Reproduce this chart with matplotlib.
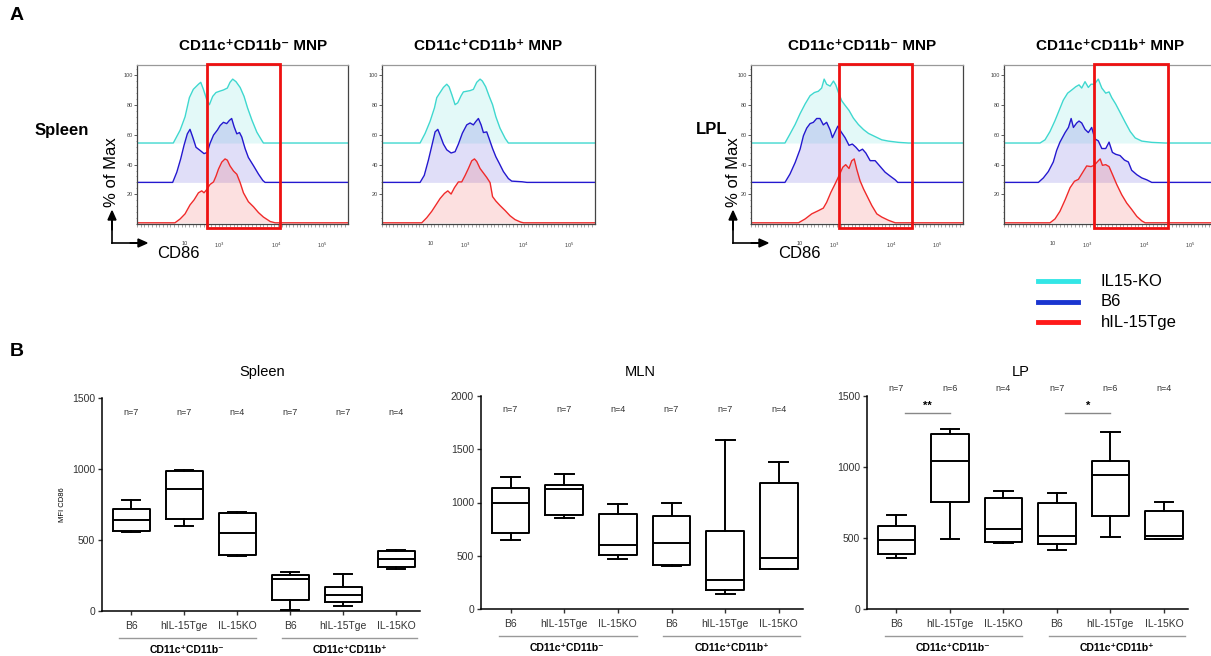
import numpy as np
import matplotlib
matplotlib.use('Agg')
import matplotlib.pyplot as plt
from matplotlib.patches import Rectangle, FancyArrow
from matplotlib.lines import Line2D
from matplotlib.ticker import MultipleLocator

plt.rcParams['font.family'] = ['Liberation Sans', 'DejaVu Sans']

W, H = 1211, 656

# ---------------- panel A: CD86 histograms (channel, % of max) ----------------
# Spleen, CD11c+CD11b-
spl_neg_ko_x = [176, 209, 233, 254, 273, 298, 309, 322, 338, 351, 367, 383, 400, 419, 438, 451, 464, 480, 500, 519, 536, 557, 581, 605, 613]
spl_neg_ko_y = [0, 20, 41, 71, 84, 92, 95, 84, 68, 60, 73, 79, 81, 83, 86, 95, 100, 96, 87, 73, 55, 36, 17, 4, 0]
spl_neg_b6_x = [173, 193, 212, 228, 244, 257, 270, 286, 306, 325, 341, 354, 371, 390, 403, 419, 435, 448, 459, 471, 484, 497, 508, 524, 540, 565, 589, 610, 621]
spl_neg_b6_y = [0, 16, 37, 58, 76, 83, 71, 55, 50, 45, 47, 61, 74, 82, 89, 94, 92, 97, 100, 87, 76, 78, 71, 53, 39, 26, 13, 3, 0]
spl_neg_tg_x = [184, 209, 233, 257, 277, 298, 314, 325, 338, 354, 371, 383, 395, 411, 427, 438, 451, 468, 484, 500, 516, 540, 565, 589, 613, 646, 670]
spl_neg_tg_y = [0, 6, 14, 28, 36, 47, 50, 47, 52, 60, 64, 73, 84, 95, 100, 98, 89, 81, 76, 63, 47, 33, 25, 16, 9, 2, 0]

# Spleen, CD11c+CD11b+
spl_pos_ko_x = [183, 207, 231, 252, 263, 279, 295, 311, 322, 335, 351, 364, 380, 391, 407, 423, 439, 455, 471, 482, 498, 515, 531, 547, 567, 592, 607]
spl_pos_ko_y = [0, 15, 34, 55, 71, 79, 87, 92, 88, 76, 60, 63, 74, 80, 81, 82, 84, 95, 100, 97, 88, 73, 60, 41, 23, 7, 0]
spl_pos_b6_x = [183, 203, 223, 242, 255, 268, 279, 295, 311, 332, 351, 367, 386, 407, 423, 439, 450, 463, 476, 487, 503, 514, 531, 547, 563, 583, 607, 623, 672, 696]
spl_pos_b6_y = [0, 11, 35, 61, 79, 83, 74, 60, 51, 46, 48, 60, 77, 90, 93, 90, 95, 100, 90, 78, 79, 69, 53, 40, 30, 17, 6, 2, 1, 0]
spl_pos_tg_x = [191, 215, 239, 263, 279, 300, 316, 332, 348, 367, 383, 399, 415, 431, 444, 455, 471, 487, 503, 519, 531, 547, 567, 592, 615, 639, 667, 680]
spl_pos_tg_y = [0, 8, 18, 30, 38, 46, 50, 45, 55, 64, 64, 74, 85, 97, 100, 96, 85, 78, 71, 63, 41, 34, 27, 19, 11, 5, 1, 0]

# LPL, CD11c+CD11b-
lpl_neg_ko_x = [164, 188, 213, 237, 261, 285, 306, 325, 341, 353, 365, 382, 398, 409, 422, 438, 454, 473, 494, 518, 543, 567, 599, 631, 663, 712, 760]
lpl_neg_ko_y = [0, 14, 29, 46, 61, 74, 79, 81, 86, 100, 92, 89, 97, 91, 79, 66, 59, 51, 39, 29, 21, 15, 10, 5, 3, 1, 0]
lpl_neg_b6_x = [164, 188, 213, 237, 253, 269, 285, 301, 317, 333, 349, 365, 382, 393, 406, 419, 435, 454, 473, 489, 506, 522, 538, 554, 575, 599, 623, 647, 671, 696, 708]
lpl_neg_b6_y = [0, 13, 31, 52, 73, 85, 92, 94, 100, 100, 90, 94, 82, 70, 79, 88, 79, 70, 58, 60, 55, 49, 52, 46, 34, 34, 25, 16, 10, 4, 0]
lpl_neg_tg_x = [229, 261, 293, 325, 349, 365, 386, 406, 425, 443, 457, 473, 486, 498, 510, 526, 543, 563, 583, 607, 631, 663, 696]
lpl_neg_tg_y = [0, 6, 14, 19, 23, 32, 48, 61, 74, 87, 91, 85, 97, 100, 84, 66, 53, 40, 27, 14, 9, 4, 0]

# LPL, CD11c+CD11b+
lpl_pos_ko_x = [174, 198, 222, 246, 266, 286, 307, 327, 346, 362, 375, 391, 407, 420, 436, 455, 472, 491, 507, 520, 539, 560, 584, 609, 633, 665, 713, 778]
lpl_pos_ko_y = [0, 5, 18, 35, 51, 67, 78, 83, 88, 91, 86, 96, 87, 92, 92, 100, 86, 78, 80, 71, 61, 48, 33, 18, 8, 3, 1, 0]
lpl_pos_b6_x = [166, 190, 214, 238, 254, 270, 295, 311, 324, 335, 351, 362, 375, 391, 407, 423, 439, 455, 472, 491, 507, 523, 539, 560, 581, 600, 616, 641, 665, 689, 713]
lpl_pos_b6_y = [0, 7, 17, 32, 50, 63, 78, 86, 100, 86, 93, 96, 93, 83, 78, 86, 68, 65, 53, 53, 63, 47, 44, 42, 35, 32, 19, 12, 7, 4, 0]
lpl_pos_tg_x = [222, 246, 270, 295, 319, 340, 359, 378, 399, 420, 436, 452, 464, 475, 491, 507, 523, 544, 568, 592, 616, 641, 665, 681]
lpl_pos_tg_y = [0, 6, 18, 36, 55, 65, 68, 78, 89, 88, 90, 96, 100, 90, 91, 88, 76, 60, 44, 31, 21, 10, 3, 0]

# gates (channel range)
gate_spl_neg = (338, 694)
gate_lpl_neg = (426, 779)
gate_lpl_pos = (436, 791)

xtick_ch = [233, 400, 676, 899]
xtick_lab = ['10', '10$^3$', '10$^4$', '10$^5$']

groups = ['IL15-KO', 'B6', 'hIL-15Tge']
line_cols = ['#3fd8cf', '#2418cf', '#f02a2a']
legend_cols = ['#33e6e6', '#1a35d0', '#ff1a1a']
offsets = [54.5, 28, 0.8]

# ---------------- panel B: MFI CD86 box plots ----------------
cats = ['B6', 'hIL-15Tge', 'IL-15KO', 'B6', 'hIL-15Tge', 'IL-15KO']

spleen_lo = [556, 596, 385, 5, 35, 298]
spleen_q1 = [563, 650, 397, 75, 63, 310]
spleen_med = [638, 861, 549, 228, 110, 368]
spleen_q3 = [716, 986, 692, 251, 169, 422]
spleen_hi = [779, 995, 697, 275, 258, 432]
spleen_n = [7, 7, 4, 7, 7, 4]

mln_lo = [644, 853, 469, 406, 141, 375]
mln_q1 = [713, 878, 503, 416, 181, 375]
mln_med = [994, 1128, 603, 619, 269, 478]
mln_q3 = [1134, 1166, 891, 875, 731, 1181]
mln_hi = [1244, 1266, 984, 994, 1588, 1381]
mln_n = [7, 7, 4, 7, 7, 4]

lp_lo = [361, 491, 467, 415, 509, 491]
lp_q1 = [387, 751, 469, 455, 655, 491]
lp_med = [486, 1044, 563, 514, 943, 516]
lp_q3 = [587, 1230, 779, 744, 1044, 692]
lp_hi = [662, 1265, 831, 819, 1249, 751]
lp_n = [7, 6, 4, 7, 6, 4]
lp_sig_pairs = [(0, 1), (3, 4)]
lp_sig_marks = ['**', '*']


fig = plt.figure(figsize=(W / 100, H / 100), dpi=100)


def px(l, t, r, b):
    return [l / W, 1 - b / H, (r - l) / W, (b - t) / H]


def ftext(x, y, s, **kw):
    fig.text(x / W, 1 - y / H, s, **kw)


def histo(rect, curves, gate=None):
    ax = fig.add_axes(px(*rect))
    for (cx, cy), off, col in zip(curves, offsets, line_cols):
        x = np.r_[0, cx, 1023]
        y = off + np.r_[0, cy, 0] * 0.43
        ax.fill_between(x, off, y, color=col, alpha=0.14, lw=0)
        ax.plot(x, y, color=col, lw=1.0)
    ax.set_xlim(0, 1023)
    ax.set_ylim(0, 107)
    for s in ax.spines.values():
        s.set_color('#444')
        s.set_linewidth(0.9)
    ax.spines['top'].set_color('#999')
    ax.set_yticks([20, 40, 60, 80, 100])
    ax.yaxis.set_minor_locator(MultipleLocator(4))
    ax.set_xticks(xtick_ch, xtick_lab)
    ax.xaxis.set_minor_locator(MultipleLocator(18))
    ax.tick_params(axis='y', labelsize=4, length=2, width=0.6, pad=1, colors='#444')
    ax.tick_params(axis='y', which='minor', length=1, width=0.4, colors='#444')
    ax.tick_params(axis='x', labelsize=4, length=0, pad=12, colors='#444')
    ax.tick_params(axis='x', which='minor', length=2, width=0.4, colors='#666')
    if gate is not None:
        ax.add_patch(Rectangle((gate[0], -2.6), gate[1] - gate[0], 110.5, fill=False,
                               ec='#ee1111', lw=2.0, clip_on=False, zorder=5))
    return ax


histo((137, 65, 348, 224), [(spl_neg_ko_x, spl_neg_ko_y), (spl_neg_b6_x, spl_neg_b6_y),
                            (spl_neg_tg_x, spl_neg_tg_y)], gate_spl_neg)
histo((382, 65, 595, 224), [(spl_pos_ko_x, spl_pos_ko_y), (spl_pos_b6_x, spl_pos_b6_y),
                            (spl_pos_tg_x, spl_pos_tg_y)])
histo((751, 65, 963, 224), [(lpl_neg_ko_x, lpl_neg_ko_y), (lpl_neg_b6_x, lpl_neg_b6_y),
                            (lpl_neg_tg_x, lpl_neg_tg_y)], gate_lpl_neg)
histo((1004, 65, 1216, 224), [(lpl_pos_ko_x, lpl_pos_ko_y), (lpl_pos_b6_x, lpl_pos_b6_y),
                              (lpl_pos_tg_x, lpl_pos_tg_y)], gate_lpl_pos)

title_neg = 'CD11c\u207aCD11b\u207b MNP'
title_pos = 'CD11c\u207aCD11b\u207a MNP'
for x, t in [(253, title_neg), (488, title_pos), (862, title_neg), (1110, title_pos)]:
    ftext(x, 46, t, ha='center', va='center', fontsize=11, fontweight='bold')

ftext(10, 16, 'A', fontsize=14, fontweight='bold', va='center')
ftext(35, 131, 'Spleen', fontsize=12, fontweight='bold', va='center')
ftext(696, 130, 'LPL', fontsize=12, fontweight='bold', va='center')

# axis hint arrows
for ax0, lab_x, cd_x in [(112, 112, 157), (733, 734, 778)]:
    fig.add_artist(Line2D([ax0 / W, ax0 / W], [1 - 243 / H, 1 - 228 / H], color='k', lw=1.2))
    fig.add_artist(Line2D([ax0 / W, (ax0 + 20) / W], [1 - 243 / H, 1 - 243 / H], color='k', lw=1.2))
    fig.patches.append(FancyArrow(ax0 / W, 1 - 230 / H, 0, 10 / H, width=0.0004,
                                  head_width=8 / W, head_length=9 / H, color='k',
                                  transform=fig.transFigure, figure=fig))
    fig.patches.append(FancyArrow((ax0 + 18) / W, 1 - 243 / H, 8 / W, 0, width=0.0004,
                                  head_width=8 / H, head_length=9 / W, color='k',
                                  transform=fig.transFigure, figure=fig))
    ftext(lab_x, 172, '% of Max', rotation=90, fontsize=12, ha='center', va='center')
    ftext(cd_x, 253, 'CD86', fontsize=12, ha='left', va='center')

# legend
for i, (g, c) in enumerate(zip(groups, legend_cols)):
    y = 1 - (281 + 20.5 * i) / H
    fig.add_artist(Line2D([1038 / W, 1078 / W], [y, y], color=c, lw=3.5))
    fig.text(1101 / W, y, g, fontsize=12, va='center')

# ---------------- panel B ----------------
ftext(10, 352, 'B', fontsize=14, fontweight='bold', va='center')

grp_neg = 'CD11c\u207aCD11b\u207b'
grp_pos = 'CD11c\u207aCD11b\u207a'


def boxes(rect, title, title_x, lo, q1, med, q3, hi, ns, ymax, n_y, ylabel=None):
    ax = fig.add_axes(px(*rect))
    stats = [dict(whislo=a, q1=b, med=c, q3=d, whishi=e) for a, b, c, d, e in zip(lo, q1, med, q3, hi)]
    ax.bxp(stats, positions=range(len(cats)), widths=0.7, showfliers=False,
           boxprops=dict(lw=1.4, color='k'), medianprops=dict(lw=1.4, color='k'),
           whiskerprops=dict(lw=1.4, color='k'), capprops=dict(lw=1.4, color='k'))
    ax.set_xlim(-0.55, 5.45)
    ax.set_ylim(0, ymax)
    ax.set_yticks(np.arange(0, ymax + 1, 500))
    ax.set_xticks(range(len(cats)), cats)
    for s in ['top', 'right']:
        ax.spines[s].set_visible(False)
    for s in ['left', 'bottom']:
        ax.spines[s].set_linewidth(1.1)
    ax.tick_params(labelsize=7.5, length=3, width=1, pad=2, colors='#333')
    ax.tick_params(axis='x', pad=4)
    ftext(title_x, 372, title, fontsize=10.5, ha='center', va='center')
    for i, n in enumerate(ns):
        ax.text(i, n_y, f'n={n}', ha='center', va='center', fontsize=6.5, color='#333', clip_on=False)
    tr = ax.get_xaxis_transform()
    for a, b, xc, lab in [(-0.22, 2.35, 1.05, grp_neg), (2.85, 5.4, 4.12, grp_pos)]:
        ax.plot([a, b], [-0.127, -0.127], color='#999', lw=1, transform=tr, clip_on=False)
        ax.text(xc, -0.185, lab, transform=tr, ha='center', va='center', fontsize=7.5, fontweight='bold')
    if ylabel:
        ax.set_ylabel(ylabel, fontsize=5.5, labelpad=4)
    return ax


boxes((102, 398, 420, 611), 'Spleen', 262, spleen_lo, spleen_q1, spleen_med, spleen_q3, spleen_hi,
      spleen_n, 1500, 1400, ylabel='MFI CD86')
boxes((481, 396, 803, 609), 'MLN', 640, mln_lo, mln_q1, mln_med, mln_q3, mln_hi, mln_n, 2000, 1870)
ax_lp = boxes((867, 396, 1188, 609), 'LP', 1021, lp_lo, lp_q1, lp_med, lp_q3, lp_hi, lp_n, 1500, 1555)
for (a, b), m in zip(lp_sig_pairs, lp_sig_marks):
    ax_lp.plot([a + 0.16, b], [1378, 1378], color='#888', lw=1, clip_on=False)
    ax_lp.text((a + 0.16 + b) / 2, 1430, m, ha='center', va='center', fontsize=8, fontweight='bold')

fig.savefig('out.png', dpi=100)
